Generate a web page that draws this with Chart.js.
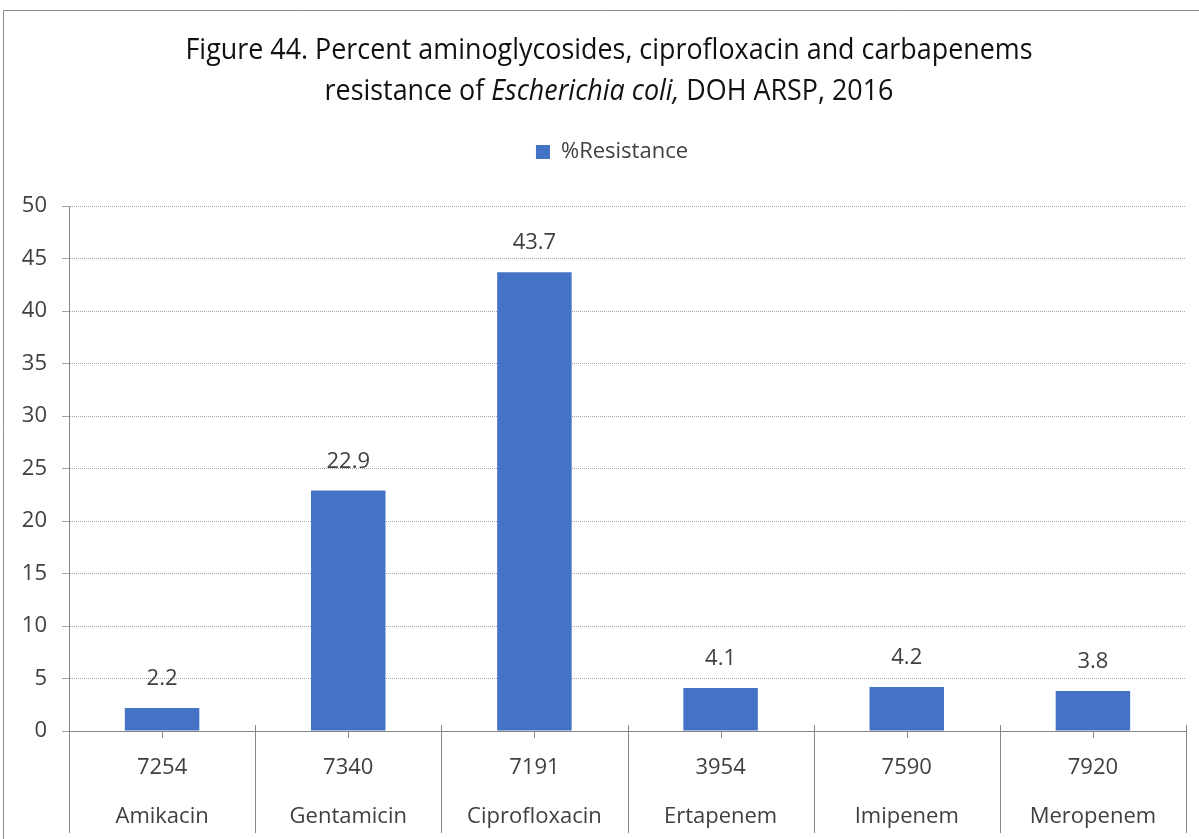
<!DOCTYPE html>
<html>
<head>
<meta charset="utf-8">
<script src="https://cdn.jsdelivr.net/npm/chart.js@4.4.1/dist/chart.umd.min.js"></script>
<style>
  body { margin: 0; background: #fff; }
  #wrap { width: 1199px; height: 839px; position: relative; }
</style>
</head>
<body>
<div id="wrap"><canvas id="resistance-chart"></canvas></div>
<script>
// chart data
const drugs = ["Amikacin", "Gentamicin", "Ciprofloxacin", "Ertapenem", "Imipenem", "Meropenem"];
const isolates = [7254, 7340, 7191, 3954, 7590, 7920];
const resistance = [2.2, 22.9, 43.7, 4.1, 4.2, 3.8];
const seriesName = "%Resistance";
const titleLine1 = "Figure 44. Percent aminoglycosides, ciprofloxacin and carbapenems";
const titleLine2 = ["resistance of ", "Escherichia coli,", " DOH ARSP, 2016"];

const textColor = "#404040";
const axisColor = "#868686";
const labelFont = '"Open Sans", "Noto Sans", sans-serif';

// frame + title drawn by hand (title has an italic part, and is a narrow face)
const framePlugin = {
  id: "frame",
  afterLayout(chart) {
    // original legend sits a little right of the canvas centre
    if (chart.legend) {
      chart.legend.left += 19;
      chart.legend.right += 19;
    }
  },
  beforeDraw(chart) {
    const ctx = chart.ctx;
    ctx.save();
    ctx.fillStyle = "#fff";
    ctx.fillRect(0, 0, chart.width, chart.height);
    ctx.strokeStyle = "#8c8c8c";
    ctx.lineWidth = 1;
    ctx.beginPath();
    ctx.moveTo(3.5, chart.height);
    ctx.lineTo(3.5, 10.5);
    ctx.lineTo(chart.width, 10.5);
    ctx.stroke();

    const cx = 609;
    const fonts = ["29px " + labelFont, "italic 29px " + labelFont, "29px " + labelFont];
    ctx.fillStyle = "#111";
    ctx.textBaseline = "middle";
    ctx.font = fonts[0];
    // squeeze horizontally so the line is as narrow as the original face
    const sx = 847 / ctx.measureText(titleLine1).width;

    ctx.save();
    ctx.translate(cx, 51);
    ctx.scale(sx, 1);
    ctx.textAlign = "center";
    ctx.fillText(titleLine1, 0, 0);
    ctx.restore();

    let total = 0;
    titleLine2.forEach((t, i) => { ctx.font = fonts[i]; total += ctx.measureText(t).width; });
    ctx.save();
    ctx.translate(cx, 92);
    ctx.scale(sx, 1);
    ctx.textAlign = "left";
    let x = -total / 2;
    titleLine2.forEach((t, i) => {
      ctx.font = fonts[i];
      ctx.fillText(t, x, 0);
      x += ctx.measureText(t).width;
    });
    ctx.restore();
    ctx.restore();
  },
  afterDraw(chart) {
    const ctx = chart.ctx;
    const xs = chart.scales.x;
    const area = chart.chartArea;
    const n = drugs.length;
    const step = xs.getPixelForValue(1) - xs.getPixelForValue(0);
    ctx.save();
    ctx.strokeStyle = axisColor;
    ctx.lineWidth = 1;
    ctx.beginPath();
    // category separators running down through the label rows
    for (let i = 0; i <= n; i++) {
      const px = Math.round(xs.getPixelForValue(0) - step / 2 + i * step) + 0.5;
      ctx.moveTo(px, i === 0 ? area.top : area.bottom - 6);
      ctx.lineTo(px, chart.height - 6);
    }
    // small ticks at the category centres
    for (let i = 0; i < n; i++) {
      const px = Math.round(xs.getPixelForValue(i)) + 0.5;
      ctx.moveTo(px, area.bottom);
      ctx.lineTo(px, area.bottom + 7);
    }
    ctx.stroke();
    ctx.restore();
  },
  afterDatasetsDraw(chart) {
    const ctx = chart.ctx;
    const meta = chart.getDatasetMeta(0);
    ctx.save();
    ctx.fillStyle = textColor;
    ctx.font = "22px " + labelFont;
    ctx.textAlign = "center";
    ctx.textBaseline = "alphabetic";
    meta.data.forEach((bar, i) => {
      ctx.fillText(resistance[i].toFixed(1), bar.x, bar.y - 23);
    });
    ctx.restore();
  }
};

const canvasElement = document.getElementById("resistance-chart");
const config = {
  type: "bar",
  data: {
    labels: drugs.map((d, i) => [String(isolates[i]), d]),
    datasets: [
      {
        label: seriesName,
        data: resistance,
        backgroundColor: "#4472c4",
        barPercentage: 0.4,
        categoryPercentage: 1,
      },
    ],
  },
  options: {
    responsive: true,
    maintainAspectRatio: false,
    animation: false,
    layout: { padding: { top: 121, left: 0, right: 13, bottom: 0 } },
    plugins: {
      legend: {
        position: "top",
        labels: {
          boxWidth: 14,
          boxHeight: 14,
          padding: 20,
          color: textColor,
          font: { family: labelFont, size: 22 },
        },
      },
      // empty box under the legend, only to leave room above the plot
      subtitle: {
        display: true,
        text: "",
        position: "top",
        weight: 500,
        font: { size: 1, lineHeight: 1 },
        padding: { top: 16, bottom: 16 },
      },
      tooltip: { enabled: false },
    },
    scales: {
      x: {
        grid: { display: false, drawTicks: false },
        border: { display: true, color: axisColor, width: 1 },
        ticks: {
          color: textColor,
          padding: 12,
          font: { family: labelFont, size: 22, lineHeight: 49 / 22 },
          maxRotation: 0,
        },
        afterFit(scale) { scale.height = 108; },
      },
      y: {
        min: 0,
        max: 50,
        ticks: {
          stepSize: 5,
          color: textColor,
          padding: 15,
          font: { family: labelFont, size: 22 },
        },
        grid: { color: "#a6a6a6", tickLength: 7, tickColor: "#a6a6a6" },
        border: { display: true, color: axisColor, width: 1, dash: [1, 1] },
        afterFit(scale) { scale.width = 69; },
      },
    },
  },
  plugins: [framePlugin],
};

const resistanceChart = new Chart(canvasElement, config);
</script>
</body>
</html>
